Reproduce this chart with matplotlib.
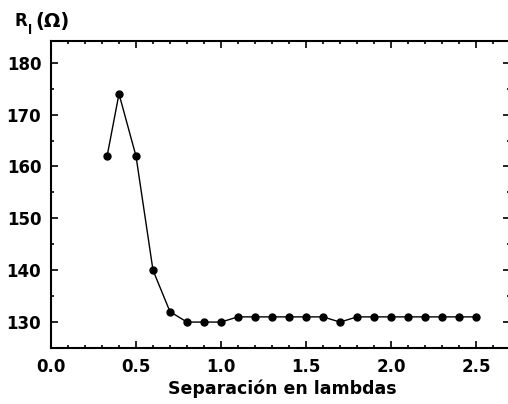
# R_l vs separation in wavelengths

import matplotlib
matplotlib.use("Agg")
import matplotlib.pyplot as plt
from matplotlib.ticker import MultipleLocator

# data
separacion = [0.33, 0.4, 0.5, 0.6, 0.7, 0.8, 0.9, 1.0, 1.1, 1.2, 1.3, 1.4,
              1.5, 1.6, 1.7, 1.8, 1.9, 2.0, 2.1, 2.2, 2.3, 2.4, 2.5]
resistencia = [162, 174, 162, 140, 132, 130, 130, 130, 131, 131, 131, 131,
               131, 131, 130, 131, 131, 131, 131, 131, 131, 131, 131]

plt.rcParams['font.family'] = 'DejaVu Sans'

fig = plt.figure(figsize=(5.08, 4.04), dpi=100)
ax = fig.add_axes([51/508, 1 - 348/404, 459/508, 307/404])

ax.plot(separacion, resistencia, color='black', linewidth=1.0,
        marker='o', markersize=5)

ax.set_xlim(0, 2.7)
ax.set_ylim(125, 184.2)
ax.xaxis.set_major_locator(MultipleLocator(0.5))
ax.xaxis.set_minor_locator(MultipleLocator(0.1))
ax.yaxis.set_major_locator(MultipleLocator(10))
ax.yaxis.set_minor_locator(MultipleLocator(5))
ax.xaxis.set_major_formatter(plt.FormatStrFormatter('%.1f'))

ax.tick_params(which='both', direction='in', top=True, right=True,
               labelsize=12, width=1.2)
ax.tick_params(which='major', length=5, pad=7)
ax.tick_params(which='minor', length=2.5)
for lab in ax.get_xticklabels() + ax.get_yticklabels():
    lab.set_fontweight('bold')
for sp in ax.spines.values():
    sp.set_linewidth(1.5)

fig.text(282/508, 1 - 389/404, 'Separación en lambdas', ha='center',
         va='center', fontsize=12.5, fontweight='bold')

# y label: R with subscript l, then (Ohm)
fig.text(15/508, 1 - 21/404, 'R', ha='left', va='center',
         fontsize=12, fontweight='bold')
fig.text(28/508, 1 - 31/404, 'l', ha='left', va='center',
         fontsize=9, fontweight='bold')
fig.text(35/508, 1 - 21/404, '(Ω)', ha='left', va='center',
         fontsize=14, fontweight='bold')

fig.savefig('out.png', dpi=100)
